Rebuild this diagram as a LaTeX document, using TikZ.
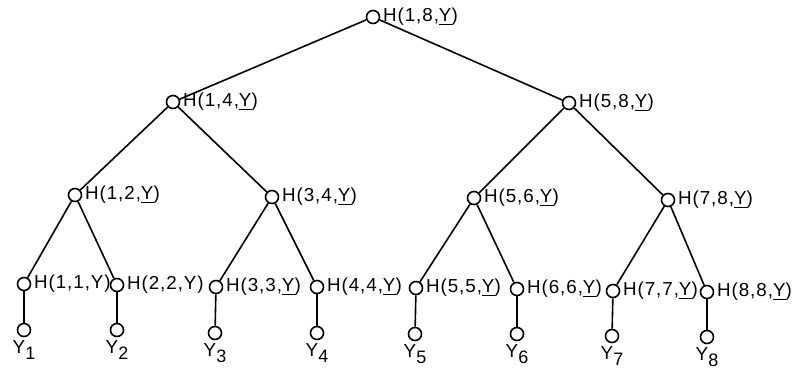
\documentclass[tikz,border=0pt]{standalone}
\usepackage{fontspec}
\setmainfont{Liberation Sans}[LetterSpace=5]
\usetikzlibrary{positioning}
\newcommand{\uY}{\underline{Y}}
\newcommand{\ysub}[1]{Y\raisebox{-0.6ex}{\small #1}}
\tikzset{
  tree/.style={x=0.5pt,y=-0.5pt,
    line width=0.8pt,
    label distance=1pt},
  every label/.style={phantom,font=\fontsize{9.4}{11}\selectfont},
  vertex/.style={circle,draw,minimum size=6.5pt,inner sep=0pt},
  leaf/.style={vertex,label distance=6.5pt},
  phantom/.style={rectangle,inner sep=0pt,draw=none,fill=none}}

\begin{document}
\begin{tikzpicture}[tree]
  \useasboundingbox (0,0) rectangle (798,372);
  % levels 0 to 2
  \node[vertex] (h18) at (373,17) [label=right:{H(1,8,\uY)}] {};
  \node[vertex] (h14) at (173,102) [label=right:{H(1,4,\uY)}] {};
  \node[vertex] (h58) at (569,103) [label=right:{H(5,8,\uY)}] {};
  \node[vertex] (h12) at (75,195) [label=right:{H(1,2,\uY)}] {};
  \node[vertex] (h34) at (272,197) [label=right:{H(3,4,\uY)}] {};
  \node[vertex] (h56) at (474,198) [label=right:{H(5,6,\uY)}] {};
  \node[vertex] (h78) at (668,200) [label=right:{H(7,8,\uY)}] {};
  % level 3
  \node[vertex] (h11) at (24,284) [label=right:{H(1,1,Y)}] {};
  \node[vertex] (h22) at (117,285) [label=right:{H(2,2,Y)}] {};
  \node[vertex] (h33) at (216,287) [label=right:{H(3,3,\uY)}] {};
  \node[vertex] (h44) at (317,287) [label=right:{H(4,4,\uY)}] {};
  \node[vertex] (h55) at (416,288) [label=right:{H(5,5,\uY)}] {};
  \node[vertex] (h66) at (517,289) [label=right:{H(6,6,\uY)}] {};
  \node[vertex] (h77) at (613,291) [label=right:{H(7,7,\uY)}] {};
  \node[vertex] (h88) at (707,292) [label=right:{H(8,8,\uY)}] {};
  \draw (h18) -- (h14);
  \draw (h18) -- (h58);
  \draw (h14) -- (h12);
  \draw (h14) -- (h34);
  \draw (h58) -- (h56);
  \draw (h58) -- (h78);
  \draw (h12) -- (h11);
  \draw (h12) -- (h22);
  \draw (h34) -- (h33);
  \draw (h34) -- (h44);
  \draw (h56) -- (h55);
  \draw (h56) -- (h66);
  \draw (h78) -- (h77);
  \draw (h78) -- (h88);
  % leaves
  \foreach \i/\x/\y in {1/24/330,2/117/330,3/215/333,4/317/333,
                        5/415/334,6/517/334,7/612/336,8/707/337}{
    \node[leaf] (y\i) at (\x,\y) [label=below:{\ysub{\i}}] {};
    \draw (h\i\i) -- (y\i);
  }
\end{tikzpicture}
\end{document}
